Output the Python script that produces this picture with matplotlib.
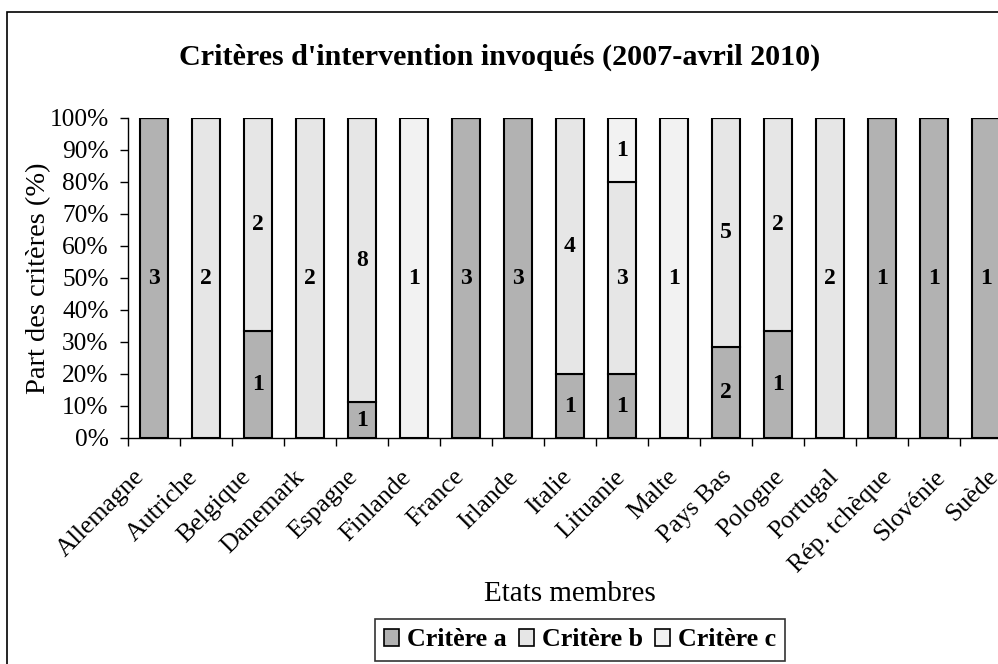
import matplotlib
matplotlib.use("Agg")
import matplotlib.pyplot as plt
import numpy as np
from matplotlib.patches import Rectangle, Patch
from matplotlib.ticker import FixedLocator, PercentFormatter

plt.rcParams['font.family'] = ['Liberation Serif', 'DejaVu Serif']

countries = ["Allemagne", "Autriche", "Belgique", "Danemark", "Espagne", "Finlande",
             "France", "Irlande", "Italie", "Lituanie", "Malte", "Pays Bas", "Pologne",
             "Portugal", "Rép. tchèque", "Slovénie", "Suède"]
crit_a = [3, 0, 1, 0, 1, 0, 3, 3, 1, 1, 0, 2, 1, 0, 1, 1, 1]
crit_b = [0, 2, 2, 2, 8, 0, 0, 0, 4, 3, 0, 5, 2, 2, 0, 0, 0]
crit_c = [0, 0, 0, 0, 0, 1, 0, 0, 0, 1, 1, 0, 0, 0, 0, 0, 0]
series_names = ["Critère a", "Critère b", "Critère c"]
colors = ["#b2b2b2", "#e6e6e6", "#f2f2f2"]

W, H = 998, 664
fig = plt.figure(figsize=(W / 100, H / 100), dpi=100)
fig.patches.append(Rectangle((7 / W, -0.05), 1.2, 1 - 12 / H + 0.05, transform=fig.transFigure,
                             fill=False, edgecolor="black", linewidth=1.2, zorder=0))

ax = fig.add_axes([128 / W, 1 - 438 / H, (1012 - 128) / W, 320 / H])
x = np.arange(len(countries))
data = np.array([crit_a, crit_b, crit_c], dtype=float)
totals = data.sum(axis=0)
pct = data / totals * 100

bottom = np.zeros(len(countries))
for i in range(3):
    ax.bar(x, pct[i], bottom=bottom, width=0.52, color=colors[i], edgecolor="black",
           linewidth=1.5, zorder=2)
    for j in range(len(countries)):
        if data[i, j] > 0:
            ax.text(x[j], bottom[j] + pct[i, j] / 2, f"{int(data[i, j])}", ha="center",
                    va="center", fontsize=17, fontweight="bold", zorder=3)
    bottom += pct[i]

ax.set_xlim(-0.5, len(countries) - 0.5)
ax.set_ylim(0, 100)
ax.set_yticks(np.arange(0, 101, 10))
ax.yaxis.set_major_formatter(PercentFormatter(decimals=0))
# label anchors (zero-length major ticks) drift slightly from left to right, as in the source
label_pos = x - 0.4 + 0.42 * x / (len(countries) - 1)
ax.set_xticks(label_pos)
ax.set_xticklabels(countries, rotation=45, ha="right", va="top", rotation_mode="anchor", fontsize=18.5)
ax.xaxis.set_minor_locator(FixedLocator(np.arange(-0.5, len(countries), 1)))
ax.tick_params(axis="x", which="major", length=0, pad=20)
ax.tick_params(axis="x", which="minor", length=6, direction="out", width=1)
ax.tick_params(axis="y", length=6, direction="out", width=1, labelsize=18.3, pad=8)
for s in ["top", "right"]:
    ax.spines[s].set_visible(False)
ax.spines["left"].set_linewidth(1)
ax.spines["bottom"].set_linewidth(1)

ax.set_ylabel("Part des critères (%)", fontsize=20.5, labelpad=-1)
ax.set_xlabel("Etats membres", fontsize=21)
ax.xaxis.set_label_coords((570 - 128) / (1012 - 128), (438 - 594) / 320)
ax.xaxis.label.set_va("center")

fig.text(500 / W, 1 - 57 / H, "Critères d'intervention invoqués (2007-avril 2010)", ha="center",
         va="center", fontsize=21.7, fontweight="bold")

handles = [Patch(facecolor=c, edgecolor="black", linewidth=1.2) for c in colors]
leg = fig.legend(handles, series_names, loc="center", bbox_to_anchor=(580 / W, 1 - 640 / H), ncol=3,
                 frameon=True, fancybox=False, edgecolor="black", handlelength=0.6, handleheight=0.6,
                 handletextpad=0.3, columnspacing=0.45, borderpad=0.35, borderaxespad=0,
                 prop={"weight": "bold", "size": 18.7})
leg.get_frame().set_linewidth(1.2)

fig.savefig("out.png", dpi=100)
